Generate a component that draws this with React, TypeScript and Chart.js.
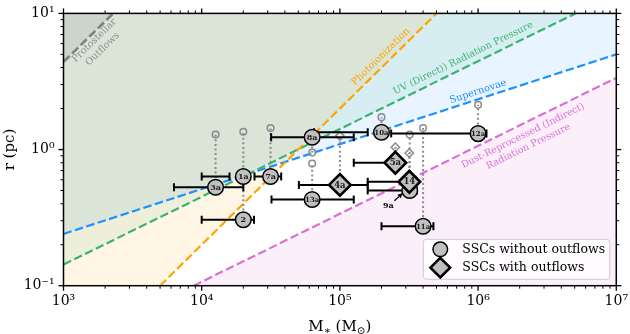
import React, { useEffect, useRef } from 'react';
import { Chart, registerables } from 'chart.js';

Chart.register(...registerables);

const FONT = "'DejaVu Serif', 'Liberation Serif', serif";

// ---- axes ----
const X_MIN = 1e3;
const X_MAX = 1e7;
const Y_MIN = 0.1;
const Y_MAX = 10;
const X_TICKS = [1e3, 1e4, 1e5, 1e6, 1e7];
const X_TICK_LABELS = ['10³', '10⁴', '10⁵', '10⁶', '10⁷'];
const Y_TICKS = [0.1, 1, 10];
const Y_TICK_LABELS = ['10⁻¹', '10⁰', '10¹'];

// ---- feedback boundary lines: [M*, r] end points ----
const PROTO_LINE = [[1e3, 4.4], [2.29e3, 10]];
const PHOTO_LINE = [[5.0e3, 0.1], [5.0e5, 10]];
const UV_LINE = [[1e3, 0.143], [5.07e6, 10]];
const SN_LINE = [[1e3, 0.24], [1e7, 5.0]];
const DUST_LINE = [[8.75e3, 0.1], [1e7, 3.36]];

// ---- SSCs without outflows ----
const NO_OUT_NAMES = ['1a', '2', '3a', '7a', '8a', '9a', '10a', '11a', '12a', '13a'];
const NO_OUT_MASS = [2.0e4, 2.0e4, 1.26e4, 3.15e4, 6.3e4, 3.2e5, 2.0e5, 4.0e5, 1.0e6, 6.3e4];
const NO_OUT_MASS_LO = [1.0e4, 1.0e4, 6.3e3, 2.41e4, 3.18e4, 1.59e5, 6.5e4, 2.0e5, 2.35e5, 3.2e4];
const NO_OUT_MASS_HI = [1.59e4, 2.39e4, 2.0e4, 3.76e4, 1.26e5, 3.6e5, 1.59e5, 4.75e5, 1.15e6, 1.26e5];
const NO_OUT_R = [0.634, 0.305, 0.528, 0.634, 1.23, 0.5, 1.34, 0.273, 1.31, 0.43];
const NO_OUT_R_ALT = [1.35, 0.6, 1.29, 1.44, 0.95, 1.29, 1.73, 1.44, 2.13, 0.79];

// ---- SSCs with outflows ----
const OUT_NAMES = ['4a', '5a', '14'];
const OUT_MASS = [1.0e5, 2.52e5, 3.18e5];
const OUT_MASS_LO = [5.05e4, 1.26e5, 1.59e5];
const OUT_MASS_HI = [1.59e5, 2.7e5, 3.5e5];
const OUT_R = [0.55, 0.8, 0.58];
const OUT_R_ALT = [1.26, 1.04, 0.944];

// ---- annotations ----
const ANNOT_9A_TEXT = [2.24e5, 0.386];
const ANNOT_9A_ARROW = [[2.48e5, 0.42], [2.85e5, 0.479]];

const C_ORANGE = '#ffa500';
const C_GREEN = '#3cb371';
const C_BLUE = '#1e90ff';
const C_MAGENTA = '#da70d6';
const C_GRAY = '#808080';

const LINE_LABELS = [
  { lines: ['Protostellar', 'Outflows'], at: [1.79e3, 5.87], color: '#8f8f8f', along: PROTO_LINE, size: 9.6 },
  { lines: ['Photoionization'], at: [1.98e5, 4.8], color: C_ORANGE, along: PHOTO_LINE, size: 9.8 },
  { lines: ['UV (Direct)) Radiation Pressure'], at: [7.8e5, 4.68], color: C_GREEN, along: UV_LINE, size: 9.5 },
  { lines: ['Supernovae'], at: [1.0e6, 2.66], color: C_BLUE, along: SN_LINE, size: 9.8 },
  { lines: ['Dust-Reprocessed (Indirect)', 'Radiation Pressure'], at: [2.21e6, 1.15], color: C_MAGENTA, along: DUST_LINE, size: 9.5 },
];

const rgba = (hex: string, a: number) => {
  const n = parseInt(hex.slice(1), 16);
  return `rgba(${(n >> 16) & 255},${(n >> 8) & 255},${n & 255},${a})`;
};
const pts = (arr: number[][]) => arr.map(([x, y]) => ({ x, y }));

function buildDatasets() {
  const ds: any[] = [];
  const fillBase = { type: 'line', borderWidth: 0, borderColor: 'rgba(0,0,0,0)', pointRadius: 0, showLine: true };
  ds.push({ ...fillBase, data: pts(PROTO_LINE), fill: 'end', backgroundColor: rgba(C_GRAY, 0.16), order: 100 });
  ds.push({ ...fillBase, data: [{ x: X_MIN, y: Y_MIN }, ...pts(PHOTO_LINE)], fill: 'end', backgroundColor: rgba(C_ORANGE, 0.1), order: 101 });
  ds.push({ ...fillBase, data: pts(UV_LINE), fill: 'end', backgroundColor: rgba(C_GREEN, 0.1), order: 102 });
  ds.push({ ...fillBase, data: pts(SN_LINE), fill: 'end', backgroundColor: rgba(C_BLUE, 0.1), order: 103 });
  ds.push({ ...fillBase, data: pts(DUST_LINE), fill: 'start', backgroundColor: rgba(C_MAGENTA, 0.11), order: 104 });

  const dashBase = { type: 'line', fill: false, pointRadius: 0, borderWidth: 2.2, borderDash: [8.5, 3.5], showLine: true };
  ds.push({ ...dashBase, data: pts(PROTO_LINE), borderColor: C_GRAY, borderWidth: 2.6, order: 90 });
  ds.push({ ...dashBase, data: pts(PHOTO_LINE), borderColor: C_ORANGE, order: 90 });
  ds.push({ ...dashBase, data: pts(UV_LINE), borderColor: C_GREEN, order: 90 });
  ds.push({ ...dashBase, data: pts(SN_LINE), borderColor: C_BLUE, order: 90 });
  ds.push({ ...dashBase, data: pts(DUST_LINE), borderColor: C_MAGENTA, order: 90 });

  const addGroup = (mass: number[], lo: number[], hi: number[], r: number[], alt: number[], diamond: boolean) => {
    mass.forEach((m, i) => {
      ds.push({
        type: 'line', showLine: true, fill: false, pointRadius: 0,
        data: [{ x: m, y: r[i] }, { x: m, y: alt[i] }],
        borderColor: '#8a8a8a', borderWidth: 2, borderDash: [2, 2.6], order: 80,
      });
      ds.push({
        type: 'line', showLine: true, fill: false,
        data: [{ x: lo[i], y: r[i] }, { x: hi[i], y: r[i] }],
        borderColor: '#000', borderWidth: 2,
        pointStyle: 'line', pointRotation: 90, pointRadius: 4, pointBorderWidth: 2,
        pointBorderColor: '#000', order: 60,
      });
    });
    ds.push({
      type: 'line', showLine: false,
      data: mass.map((m, i) => ({ x: m, y: alt[i] })),
      pointStyle: diamond ? 'rectRot' : 'circle', pointRadius: diamond ? 4.2 : 3.3,
      pointBorderColor: '#8a8a8a', pointBackgroundColor: 'rgba(0,0,0,0)', pointBorderWidth: 1.5,
      order: 70,
    });
    ds.push({
      type: 'line', showLine: false,
      data: mass.map((m, i) => ({ x: m, y: r[i] })),
      pointStyle: diamond ? 'rectRot' : 'circle', pointRadius: diamond ? 10.8 : 7.8,
      pointBorderColor: '#000', pointBackgroundColor: '#c0c0c0', pointBorderWidth: diamond ? 2.6 : 1.5,
      order: diamond ? 40 : 50,
    });
  };
  addGroup(NO_OUT_MASS, NO_OUT_MASS_LO, NO_OUT_MASS_HI, NO_OUT_R, NO_OUT_R_ALT, false);
  addGroup(OUT_MASS, OUT_MASS_LO, OUT_MASS_HI, OUT_R, OUT_R_ALT, true);
  return ds;
}

const overlayPlugin = {
  id: 'overlay',
  afterDatasetsDraw(chart: any) {
    const { ctx, chartArea: a, scales } = chart;
    const xs = scales.x;
    const ys = scales.y;
    const px = (m: number) => xs.getPixelForValue(m);
    const py = (r: number) => ys.getPixelForValue(r);

    // rotated line labels
    LINE_LABELS.forEach((lab) => {
      const [p0, p1] = lab.along;
      const ang = Math.atan2(py(p1[1]) - py(p0[1]), px(p1[0]) - px(p0[0]));
      ctx.save();
      ctx.beginPath();
      ctx.rect(a.left, a.top, a.right - a.left, a.bottom - a.top);
      ctx.clip();
      ctx.translate(px(lab.at[0]), py(lab.at[1]));
      ctx.rotate(ang);
      ctx.font = `${lab.size}px ${FONT}`;
      ctx.fillStyle = lab.color;
      ctx.textAlign = 'center';
      ctx.textBaseline = 'middle';
      const lh = 12;
      lab.lines.forEach((t, i) => ctx.fillText(t, 0, (i - (lab.lines.length - 1) / 2) * lh));
      ctx.restore();
    });

    // marker labels
    const drawLabel = (name: string, m: number, r: number, size: number) => {
      ctx.save();
      ctx.font = `bold ${size}px ${FONT}`;
      ctx.fillStyle = '#1a1a1a';
      ctx.textAlign = 'center';
      ctx.textBaseline = 'middle';
      ctx.fillText(name, px(m), py(r) + 0.5);
      ctx.restore();
    };
    NO_OUT_NAMES.forEach((n, i) => {
      if (n === '9a') return;
      drawLabel(n, NO_OUT_MASS[i], NO_OUT_R[i], n.length >= 3 ? 7 : 8);
    });
    OUT_NAMES.forEach((n, i) => drawLabel(n, OUT_MASS[i], OUT_R[i], 8.5));

    // 9a annotation with arrow
    ctx.save();
    ctx.font = `bold 8px ${FONT}`;
    ctx.fillStyle = '#000';
    ctx.textAlign = 'center';
    ctx.textBaseline = 'middle';
    ctx.fillText('9a', px(ANNOT_9A_TEXT[0]), py(ANNOT_9A_TEXT[1]));
    const ax0 = px(ANNOT_9A_ARROW[0][0]), ay0 = py(ANNOT_9A_ARROW[0][1]);
    const ax1 = px(ANNOT_9A_ARROW[1][0]), ay1 = py(ANNOT_9A_ARROW[1][1]);
    const ang = Math.atan2(ay1 - ay0, ax1 - ax0);
    ctx.strokeStyle = '#000';
    ctx.lineWidth = 1.3;
    ctx.beginPath();
    ctx.moveTo(ax0, ay0);
    ctx.lineTo(ax1 - 3 * Math.cos(ang), ay1 - 3 * Math.sin(ang));
    ctx.stroke();
    ctx.beginPath();
    ctx.moveTo(ax1, ay1);
    ctx.lineTo(ax1 - 5 * Math.cos(ang) + 2.5 * Math.sin(ang), ay1 - 5 * Math.sin(ang) - 2.5 * Math.cos(ang));
    ctx.lineTo(ax1 - 5 * Math.cos(ang) - 2.5 * Math.sin(ang), ay1 - 5 * Math.sin(ang) + 2.5 * Math.cos(ang));
    ctx.closePath();
    ctx.fill();
    ctx.restore();

    // ticks on all four sides
    ctx.save();
    ctx.strokeStyle = '#000';
    const tick = (x0: number, y0: number, x1: number, y1: number, w: number) => {
      ctx.lineWidth = w;
      ctx.beginPath();
      ctx.moveTo(x0, y0);
      ctx.lineTo(x1, y1);
      ctx.stroke();
    };
    for (let e = Math.log10(X_MIN); e <= Math.log10(X_MAX); e++) {
      for (let k = 1; k <= 9; k++) {
        const v = k * Math.pow(10, e);
        if (v < X_MIN * 0.999 || v > X_MAX * 1.001) continue;
        const major = k === 1;
        const L = major ? 5 : 3;
        const xx = px(v);
        tick(xx, a.bottom, xx, a.bottom + L, major ? 1.3 : 1);
        tick(xx, a.top, xx, a.top - L, major ? 1.3 : 1);
      }
    }
    for (let e = Math.log10(Y_MIN); e <= Math.log10(Y_MAX) + 0.001; e++) {
      for (let k = 1; k <= 9; k++) {
        const v = k * Math.pow(10, Math.round(e));
        if (v < Y_MIN * 0.999 || v > Y_MAX * 1.001) continue;
        const major = k === 1;
        const L = major ? 5 : 3;
        const yy = py(v);
        tick(a.left, yy, a.left - L, yy, major ? 1.3 : 1);
        tick(a.right, yy, a.right + L, yy, major ? 1.3 : 1);
      }
    }
    ctx.lineWidth = 1.5;
    ctx.strokeRect(a.left, a.top, a.right - a.left, a.bottom - a.top);
    ctx.restore();
  },
  afterDraw(chart: any) {
    const { ctx, chartArea: a } = chart;
    // legend
    const lw = 186.5, lhgt = 40;
    const lx = a.right - 6.5 - lw;
    const ly = a.bottom - 6.4 - lhgt;
    ctx.save();
    ctx.beginPath();
    const rr = 3;
    ctx.moveTo(lx + rr, ly);
    ctx.arcTo(lx + lw, ly, lx + lw, ly + lhgt, rr);
    ctx.arcTo(lx + lw, ly + lhgt, lx, ly + lhgt, rr);
    ctx.arcTo(lx, ly + lhgt, lx, ly, rr);
    ctx.arcTo(lx, ly, lx + lw, ly, rr);
    ctx.closePath();
    ctx.fillStyle = 'rgba(255,255,255,0.8)';
    ctx.fill();
    ctx.strokeStyle = '#cccccc';
    ctx.lineWidth = 1;
    ctx.stroke();
    const mx = lx + 17;
    const y1 = ly + 10;
    const y2 = ly + 28.4;
    ctx.fillStyle = '#c0c0c0';
    ctx.strokeStyle = '#000';
    ctx.lineWidth = 1.5;
    ctx.beginPath();
    ctx.arc(mx, y1, 7.3, 0, Math.PI * 2);
    ctx.fill();
    ctx.stroke();
    ctx.lineWidth = 2.6;
    ctx.beginPath();
    const d = 9.8;
    ctx.moveTo(mx - d, y2);
    ctx.lineTo(mx, y2 - d);
    ctx.lineTo(mx + d, y2);
    ctx.lineTo(mx, y2 + d);
    ctx.closePath();
    ctx.fill();
    ctx.stroke();
    ctx.fillStyle = '#000';
    ctx.font = `12.5px ${FONT}`;
    ctx.textAlign = 'left';
    ctx.textBaseline = 'middle';
    ctx.fillText('SSCs without outflows', lx + 39, y1 + 0.5);
    ctx.fillText('SSCs with outflows', lx + 39, y2 + 0.5);
    ctx.restore();

    // axis titles
    ctx.save();
    ctx.fillStyle = '#000';
    ctx.translate(10.5, (a.top + a.bottom) / 2);
    ctx.rotate(-Math.PI / 2);
    ctx.font = `15px ${FONT}`;
    ctx.textAlign = 'center';
    ctx.textBaseline = 'middle';
    ctx.fillText('r (pc)', 0, 0);
    ctx.restore();

    ctx.save();
    ctx.fillStyle = '#000';
    ctx.textBaseline = 'alphabetic';
    ctx.textAlign = 'left';
    const parts: [string, number, number][] = [
      ['M', 15, 0], ['∗', 10.5, 3], [' (M', 15, 0], ['⊙', 10.5, 3], [')', 15, 0],
    ];
    let total = 0;
    parts.forEach(([t, s]) => { ctx.font = `${s}px ${FONT}`; total += ctx.measureText(t).width; });
    let cx = (a.left + a.right) / 2 - total / 2;
    const base = 330.5;
    parts.forEach(([t, s, off]) => {
      ctx.font = `${s}px ${FONT}`;
      ctx.fillText(t, cx, base + off);
      cx += ctx.measureText(t).width;
    });
    ctx.restore();
  },
};

export default function App() {
  const ref = useRef<HTMLCanvasElement | null>(null);
  useEffect(() => {
    if (!ref.current) return;
    const chart = new Chart(ref.current, {
      type: 'line',
      data: { datasets: buildDatasets() },
      options: {
        responsive: false,
        maintainAspectRatio: false,
        devicePixelRatio: 1,
        animation: false,
        events: [],
        layout: { padding: { top: 7.3, right: 12, left: 0, bottom: 0 } },
        plugins: { legend: { display: false }, tooltip: { enabled: false } },
        scales: {
          x: {
            type: 'logarithmic',
            min: X_MIN,
            max: X_MAX,
            position: 'bottom',
            afterBuildTicks: (s: any) => { s.ticks = X_TICKS.map((v) => ({ value: v })); },
            afterFit: (s: any) => { s.height = 48.3; },
            grid: { display: true, drawOnChartArea: false, drawTicks: true, tickLength: 5, color: 'rgba(0,0,0,0)' },
            border: { display: false },
            ticks: {
              autoSkip: false, maxRotation: 0, minRotation: 0, padding: 2,
              color: '#000', font: { family: FONT, size: 14 },
              callback: (_v: any, i: number) => X_TICK_LABELS[i],
            },
          },
          y: {
            type: 'logarithmic',
            min: Y_MIN,
            max: Y_MAX,
            position: 'left',
            afterBuildTicks: (s: any) => { s.ticks = Y_TICKS.map((v) => ({ value: v })); },
            afterFit: (s: any) => { s.width = 63.5; },
            grid: { display: true, drawOnChartArea: false, drawTicks: true, tickLength: 5, color: 'rgba(0,0,0,0)' },
            border: { display: false },
            ticks: {
              autoSkip: false, padding: 4,
              color: '#000', font: { family: FONT, size: 14 },
              callback: (_v: any, i: number) => Y_TICK_LABELS[i],
            },
          },
        },
      } as any,
      plugins: [overlayPlugin],
    });
    return () => chart.destroy();
  }, []);
  return (
    <div style={{ position: 'absolute', left: 0, top: 0, width: 630, height: 334 }}>
      <canvas ref={ref} width={630} height={334} style={{ display: 'block', width: 630, height: 334 }} />
    </div>
  );
}
